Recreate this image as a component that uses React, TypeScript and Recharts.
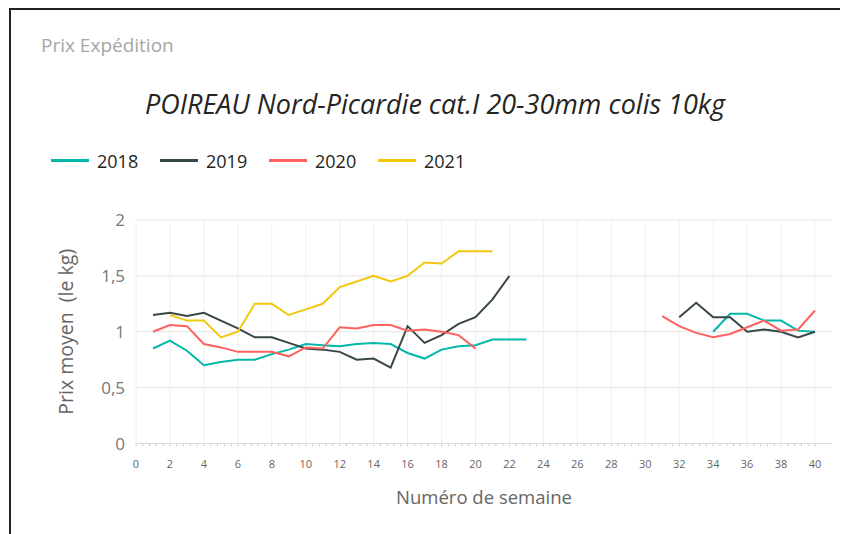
import React from 'react';
import { LineChart, Line, XAxis, YAxis, CartesianGrid, ReferenceLine } from 'recharts';

const WEEKS = [1,2,3,4,5,6,7,8,9,10,11,12,13,14,15,16,17,18,19,20,21,22,23,24,25,26,27,28,29,30,31,32,33,34,35,36,37,38,39,40];

const S2018 = [0.85,0.92,0.83,0.70,0.73,0.75,0.75,0.80,0.84,0.89,0.88,0.87,0.89,0.90,0.89,0.81,0.76,0.84,0.87,0.88,0.93,0.93,0.93,
  null,null,null,null,null,null,null,null,null,null,
  1.00,1.16,1.16,1.10,1.10,1.01,1.00];
const S2019 = [1.15,1.17,1.14,1.17,1.10,1.03,0.95,0.95,0.90,0.85,0.84,0.82,0.75,0.76,0.68,1.05,0.90,0.97,1.07,1.13,1.29,1.50,
  null,null,null,null,null,null,null,null,null,
  1.13,1.26,1.13,1.13,1.00,1.02,1.00,0.95,1.00];
const S2020 = [1.00,1.06,1.05,0.89,0.86,0.82,0.82,0.82,0.78,0.86,0.85,1.04,1.03,1.06,1.06,1.01,1.02,1.00,0.97,0.85,
  null,null,null,null,null,null,null,null,null,null,
  1.14,1.05,0.99,0.95,0.98,1.04,1.10,1.01,1.02,1.19];
const S2021 = [null,1.15,1.10,1.10,0.95,1.00,1.25,1.25,1.15,1.20,1.25,1.40,1.45,1.50,1.45,1.50,1.62,1.61,1.72,1.72,1.72,
  null,null,null,null,null,null,null,null,null,null,null,null,null,null,null,null,null,null,null];

const SERIES = [
  { key: 'y2018', name: '2018', color: '#01B8AA', values: S2018 },
  { key: 'y2019', name: '2019', color: '#374649', values: S2019 },
  { key: 'y2020', name: '2020', color: '#FD625E', values: S2020 },
  { key: 'y2021', name: '2021', color: '#F2C80F', values: S2021 },
];

const X_LABEL_TICKS = [0,2,4,6,8,10,12,14,16,18,20,22,24,26,28,30,32,34,36,38,40];
const Y_TICKS = [0, 0.5, 1, 1.5, 2];
const MINOR_TICKS: number[] = [];
for (let i = 0; i <= 100; i++) MINOR_TICKS.push(Math.round(i * 0.4 * 100) / 100);

const TITLE = 'POIREAU Nord-Picardie cat.I 20-30mm colis 10kg';
const SUBTITLE = 'Prix Expédition';
const X_TITLE = 'Numéro de semaine';
const Y_TITLE = 'Prix moyen  (le kg)';

const data = WEEKS.map((w, i) => {
  const row: any = { week: w };
  SERIES.forEach((s) => { row[s.key] = s.values[i]; });
  return row;
});

const FONT = '"Open Sans", "Segoe UI", sans-serif';

const XTick = (props: any) => {
  const { x, y, payload } = props;
  const v = payload.value;
  const r = Math.round(v);
  if (Math.abs(v - r) > 1e-6 || r % 2 !== 0) return <g />;
  return (
    <text x={x} y={y} dy="0.71em" textAnchor="middle" fontSize={11} fill="#666" fontFamily={FONT}>{r}</text>
  );
};

export default function App() {
  return (
    <div style={{ position: 'relative', width: 840, height: 526, fontFamily: FONT, background: '#fff' }}>
      <div style={{ position: 'absolute', left: 1, top: 0, width: 839, height: 526, borderTop: '2px solid #222', borderLeft: '2px solid #222', boxSizing: 'border-box' }} />
      <div style={{ position: 'absolute', left: 33, top: 24, fontSize: 19, color: '#a6a6a6', whiteSpace: 'nowrap' }}>{SUBTITLE}</div>
      <div style={{ position: 'absolute', left: 27, width: 800, top: 77, textAlign: 'center', fontSize: 27, fontStyle: 'italic', color: '#252423', whiteSpace: 'nowrap' }}>{TITLE}</div>
      <div style={{ position: 'absolute', left: 43, top: 140, display: 'flex', height: 25 }}>
        {SERIES.map((s) => (
          <div key={s.key} style={{ width: 109, display: 'flex', alignItems: 'center' }}>
            <div style={{ width: 38, height: 3, background: s.color, marginRight: 8 }} />
            <span style={{ fontSize: 18, color: '#252423' }}>{s.name}</span>
          </div>
        ))}
      </div>
      <div style={{ position: 'absolute', left: 0, top: 0 }}>
        <LineChart width={840} height={526} data={data} margin={{ top: 212, right: 16, bottom: 10, left: 28 }}>
          <CartesianGrid vertical={false} stroke="#e3e3e3" strokeWidth={1} />
          {X_LABEL_TICKS.map((t) => (
            <ReferenceLine key={t} x={t} stroke="#f0f0f0" strokeWidth={1} />
          ))}
          <XAxis
            dataKey="week"
            type="number"
            domain={[0, 41]}
            ticks={MINOR_TICKS}
            interval={0}
            height={80.5}
            axisLine={{ stroke: '#dcdcdc' }}
            tickLine={{ stroke: '#cfcfcf' }}
            tickSize={3}
            tickMargin={14}
            tick={XTick}
            label={{
              content: (p: any) => {
                const vb = p.viewBox;
                return (
                  <text x={vb.x + vb.width / 2} y={vb.y + 60} textAnchor="middle" fontSize={18.5} fill="#666" fontFamily={FONT}>{X_TITLE}</text>
                );
              },
            }}
          />
          <YAxis
            type="number"
            domain={[0, 2]}
            ticks={Y_TICKS}
            width={100}
            axisLine={false}
            tickLine={false}
            tickSize={0}
            tickMargin={11}
            tick={{ fontSize: 17, fill: '#777', fontFamily: FONT }}
            tickFormatter={(v: number) => String(v).replace('.', ',')}
            label={{
              content: (p: any) => {
                const vb = p.viewBox;
                const cx = vb.x + 29;
                const cy = vb.y + vb.height / 2;
                return (
                  <text x={cx} y={cy} transform={`rotate(-90, ${cx}, ${cy})`} textAnchor="middle" dominantBaseline="central" fontSize={19.5} fill="#666" fontFamily={FONT} style={{ whiteSpace: 'pre' }}>{Y_TITLE}</text>
                );
              },
            }}
          />
          {SERIES.map((s) => (
            <Line key={s.key} type="linear" dataKey={s.key} stroke={s.color} strokeWidth={2} dot={false} connectNulls={false} isAnimationActive={false} />
          ))}
        </LineChart>
      </div>
    </div>
  );
}
